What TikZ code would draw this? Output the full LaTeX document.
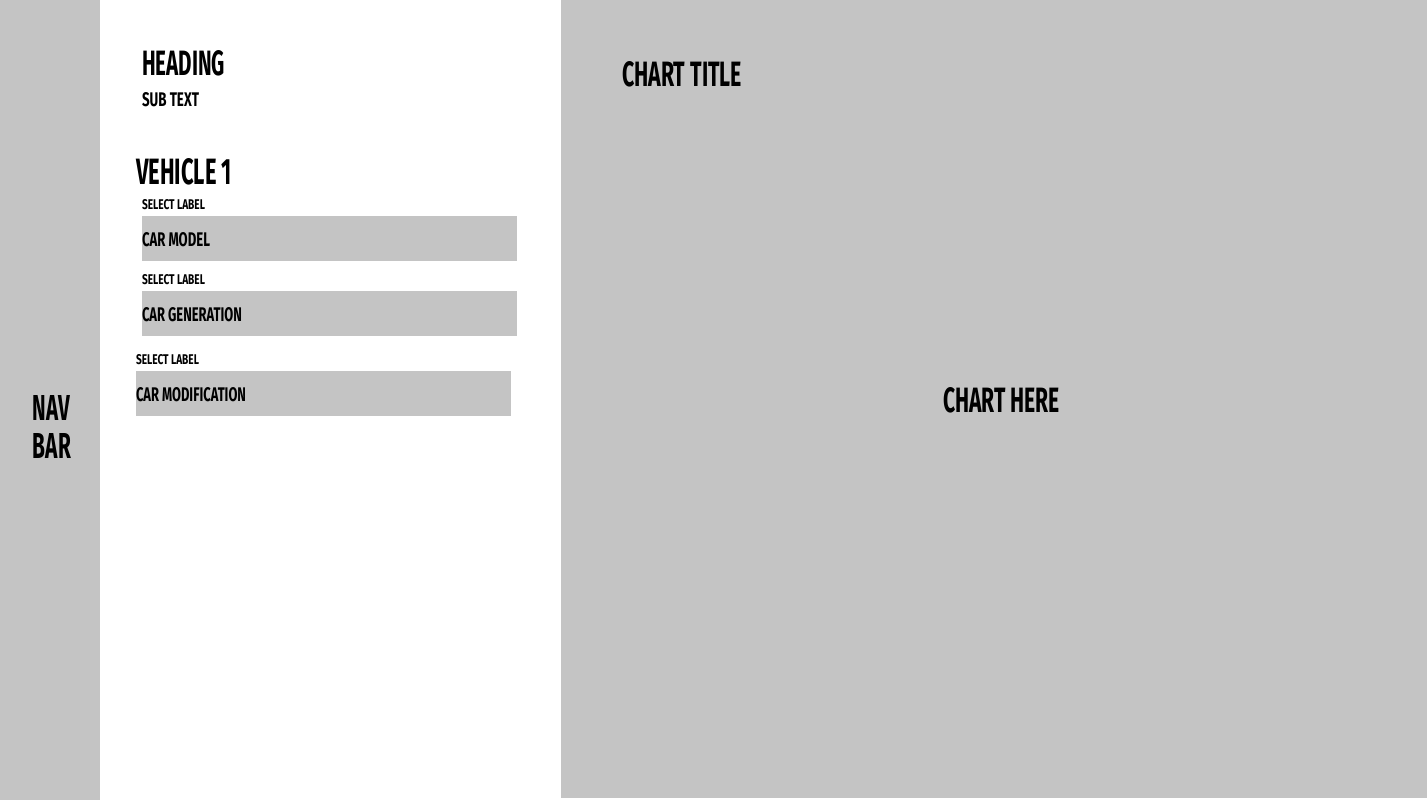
\documentclass[tikz,border=0pt]{standalone}
\usepackage{fontspec}
\newfontfamily\bebas{Fira Sans}
\usepackage{graphicx}
\definecolor{panelgray}{HTML}{C4C4C4}
\newcommand{\bt}[3]{\resizebox{#1pt}{#2pt}{\bebas\bfseries #3}}
\tikzset{
  lbl/.style={anchor=base west, inner sep=0pt, outer sep=0pt, text=black},
  panel/.style={fill=panelgray, draw=none},
}
\begin{document}
\begin{tikzpicture}[x=1pt,y=-1pt]
\useasboundingbox (0,0) rectangle (1427,800);
\fill[white] (0,0) rectangle (1427,800);
% panels
\fill[panelgray] (0,0) rectangle (100,800);
\fill[panelgray] (561,0) rectangle (1427,798);
% nav bar
\node[lbl] (nav) at (33,420) {\bt{37}{25}{NAV}};
\node[lbl] (bar) at (33,458) {\bt{38}{25}{BAR}};
% left panel
\node[lbl] (heading) at (142,76) {\bt{83}{25}{HEADING}};
\node[lbl] (subtext) at (142,106) {\bt{57}{14}{SUB TEXT}};
\node[lbl] (vehicle) at (136,184) {\bt{96}{26}{VEHICLE 1}};
% select 1
\node[lbl] (sel1) at (142,209) {\bt{63}{10}{SELECT LABEL}};
\fill[panelgray] (142,216) rectangle (517,261);
\node[lbl] (model) at (142,246) {\bt{68}{14}{CAR MODEL}};
% select 2
\node[lbl] (sel2) at (142,284) {\bt{63}{10}{SELECT LABEL}};
\fill[panelgray] (142,291) rectangle (517,336);
\node[lbl] (gen) at (142,321) {\bt{100}{14}{CAR GENERATION}};
% select 3
\node[lbl] (sel3) at (136,364) {\bt{63}{10}{SELECT LABEL}};
\fill[panelgray] (136,371) rectangle (511,416);
\node[lbl] (modif) at (136,401) {\bt{110}{14}{CAR MODIFICATION}};
% chart
\node[lbl] (ctitle) at (622,86) {\bt{120}{25}{CHART TITLE}};
\node[lbl] (chere) at (943,412) {\bt{117}{25}{CHART HERE}};
\end{tikzpicture}
\end{document}
